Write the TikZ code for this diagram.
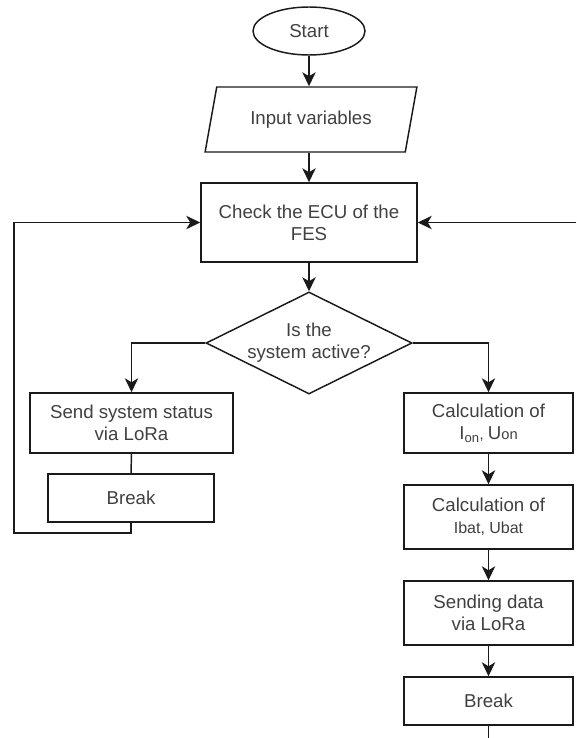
\documentclass[tikz,border=0pt]{standalone}
\usepackage{fontspec}
\setmainfont{Liberation Sans}
\usetikzlibrary{shapes.geometric,arrows.meta}
\definecolor{txt}{HTML}{404040}
\definecolor{ln}{HTML}{1A1A1A}
\begin{document}
\begin{tikzpicture}[x=0.75pt,y=-0.75pt,
  font=\fontsize{14pt}{16.5pt}\selectfont,
  every node/.style={text=txt},
  box/.style={draw=ln,line width=1.1pt,rectangle,inner sep=0pt,align=center},
  arr/.style={draw=ln,line width=1.1pt,-{Stealth[length=10.5pt,width=10pt,inset=3pt]}},
  ln/.style={draw=ln,line width=1.1pt}]
\useasboundingbox (0,0) rectangle (576,738);
\node[box,ellipse,minimum width=84pt,minimum height=36pt] (start) at (309,31) {Start};
\node[box,trapezium,trapezium left angle=66.7,trapezium right angle=113.3,trapezium stretches=true,minimum width=159pt,minimum height=48.75pt] (inp) at (311,119.5) {Input variables};
\node[box,minimum width=162pt,minimum height=59.25pt] (chk) at (309,222.5) {Check the ECU of the\\FES};
\node[box,diamond,aspect=2,minimum width=154.5pt,minimum height=76.5pt] (dec) at (309,343) {Is the\\system active?};
\node[box,minimum width=152.25pt,minimum height=45pt] (send) at (131.5,423) {Send system status\\via LoRa};
\node[box,minimum width=124.5pt,minimum height=36pt] (brk1) at (131,498) {Break};
\node[box,minimum width=126.75pt,minimum height=45pt] (c1) at (488.5,423) {Calculation of\\I\textsubscript{on}{\fontsize{11pt}{12pt}\selectfont, }U{\fontsize{11pt}{12pt}\selectfont on}};
\node[box,minimum width=126.75pt,minimum height=48pt] (c2) at (488.5,517) {Calculation of\\{\fontsize{12pt}{13pt}\selectfont Ibat, Ubat}};
\node[box,minimum width=126.75pt,minimum height=48pt] (snd) at (488.5,613) {Sending data\\via LoRa};
\node[box,minimum width=126.75pt,minimum height=36pt] (brk2) at (488.5,701) {Break};
\coordinate (lb) at (14,533);
\coordinate (rin) at (576,222.5);
\coordinate (bout) at (488.5,738);
\draw[arr] (start) -- (start |- inp.north);
\draw[arr] (start |- inp.south) -- (chk.north);
\draw[arr] (chk) -- (dec);
\draw[arr] (dec.west) -| (send.north);
\draw[arr] (dec.east) -| (c1.north);
\draw[ln] (send.south) -- (brk1.north);
\draw[arr] (brk1.south) |- (lb) |- (chk.west);
\draw[arr] (rin) -- (chk.east);
\draw[arr] (c1) -- (c2);
\draw[arr] (c2) -- (snd);
\draw[arr] (snd) -- (brk2);
\draw[ln] (brk2.south) -- (bout);
\end{tikzpicture}
\end{document}
